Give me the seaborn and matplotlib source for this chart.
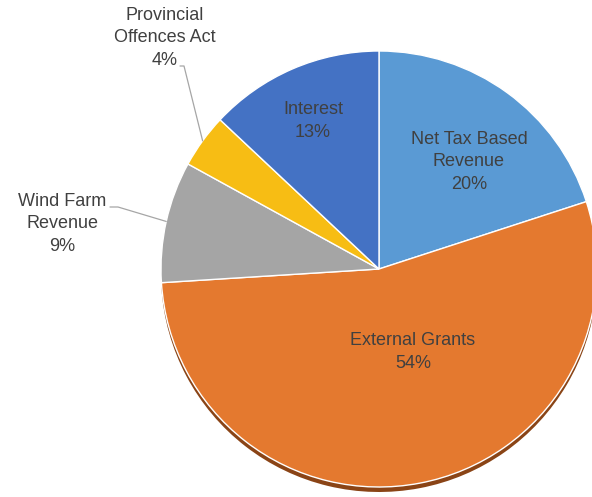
import numpy as np
import matplotlib.pyplot as plt
import seaborn as sns

# data
labels = ['Net Tax Based\nRevenue', 'External Grants', 'Wind Farm\nRevenue',
          'Provincial\nOffences Act', 'Interest']
shares = [20, 54, 9, 4, 13]
colors = ['#5A9AD4', '#E4792F', '#A5A5A5', '#F7BD14', '#4472C4']
shadow_colors = ['#2f5f8c', '#8a4416', '#666666', '#9a7300', '#2a4a80']

sns.set_theme(style='white')
plt.rcParams['font.family'] = ['Liberation Sans', 'DejaVu Sans']

W, H = 592, 497
fig = plt.figure(figsize=(W / 100, H / 100), dpi=100)
ax = fig.add_axes([0, 0, 1, 1])

cx, cy, R = 379, H - 269, 218

# drop shadow, then the pie itself
ax.pie(shares, colors=shadow_colors, startangle=90, counterclock=False,
       center=(cx, cy - 5), radius=R, wedgeprops=dict(linewidth=0))
wedges, _ = ax.pie(shares, colors=colors, startangle=90, counterclock=False,
                   center=(cx, cy), radius=R,
                   wedgeprops=dict(edgecolor='white', linewidth=1))

# label layout (pixel positions, y from top)
label_pos = {0: (469, 162), 1: (413, 352), 2: (62, 224), 3: (165, 38), 4: (313, 121)}
leader_start = {2: [(110, 207), (118, 207)], 3: [(180, 66), (184, 66)]}

txt_kw = dict(ha='center', va='center', fontsize=13, color='#404040', linespacing=1.4)
for i, (x, y) in label_pos.items():
    ax.text(x, H - y, f'{labels[i]}\n{shares[i]}%', **txt_kw)

for i, pts in leader_start.items():
    w = wedges[i]
    th = np.deg2rad((w.theta1 + w.theta2) / 2)
    ex, ey = cx + R * np.cos(th), cy + R * np.sin(th)
    xs = [p[0] for p in pts] + [ex]
    ys = [H - p[1] for p in pts] + [ey]
    ax.plot(xs, ys, color='#A6A6A6', lw=0.9)

ax.set_xlim(0, W)
ax.set_ylim(0, H)
ax.set_aspect('equal')
ax.axis('off')

plt.savefig('out.png', dpi=100, facecolor='white')
